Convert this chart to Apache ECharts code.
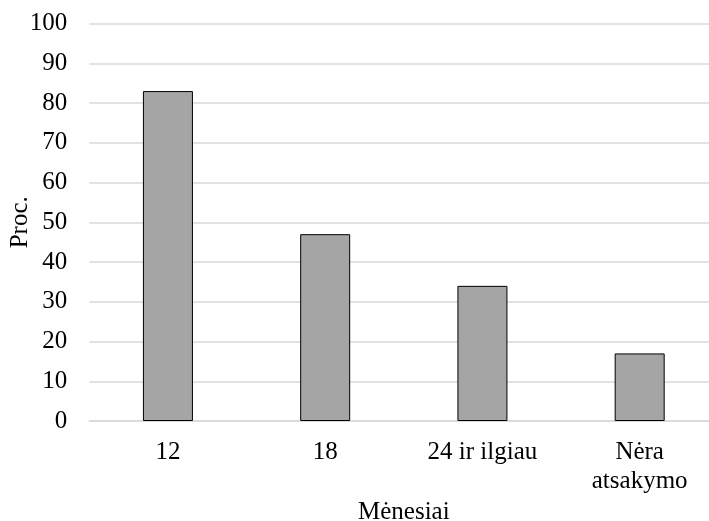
<!DOCTYPE html>
<html><head><meta charset="utf-8">
<script src="https://cdn.jsdelivr.net/npm/echarts@6/dist/echarts.min.js"></script>
<style>html,body{margin:0;padding:0;background:#fff}#c{width:709px;height:521px}</style>
</head><body><div id="c"></div>
<script>
const categories = ['12', '18', '24 ir ilgiau', 'Nėra\natsakymo'];
const values = [83, 47, 34, 17];
const xTitle = 'Mėnesiai';
const yTitle = 'Proc.';
const font = '"Liberation Serif", "Times New Roman", serif';
const chart = echarts.init(document.getElementById('c'));
chart.setOption({
  animation: false,
  grid: {left: 89.3, right: -9.3, top: 23.5, bottom: 100, containLabel: false, outerBoundsMode: 'none'},
  xAxis: {
    type: 'category', data: categories,
    name: xTitle, nameLocation: 'middle', nameGap: 79, nameMoveOverlap: false,
    nameTextStyle: {fontFamily: font, fontSize: 25, color: '#000'},
    axisLine: {show: true, lineStyle: {color: '#d9d9d9', width: 1.5}},
    axisTick: {show: false},
    axisLabel: {fontFamily: font, fontSize: 25, color: '#000', margin: 17, lineHeight: 29}
  },
  yAxis: {
    type: 'value', min: 0, max: 100, interval: 10,
    name: yTitle, nameLocation: 'middle', nameGap: 56, nameMoveOverlap: false,
    nameTextStyle: {fontFamily: font, fontSize: 25, color: '#000'},
    axisLine: {show: false}, axisTick: {show: false},
    axisLabel: {fontFamily: font, fontSize: 25, color: '#000', margin: 22},
    splitLine: {lineStyle: {color: '#d9d9d9', width: 1.5}}
  },
  series: [{
    type: 'bar', data: values, barWidth: '31.8%',
    itemStyle: {color: '#a5a5a5', borderColor: '#000', borderWidth: 1}
  }]
});
</script></body></html>
